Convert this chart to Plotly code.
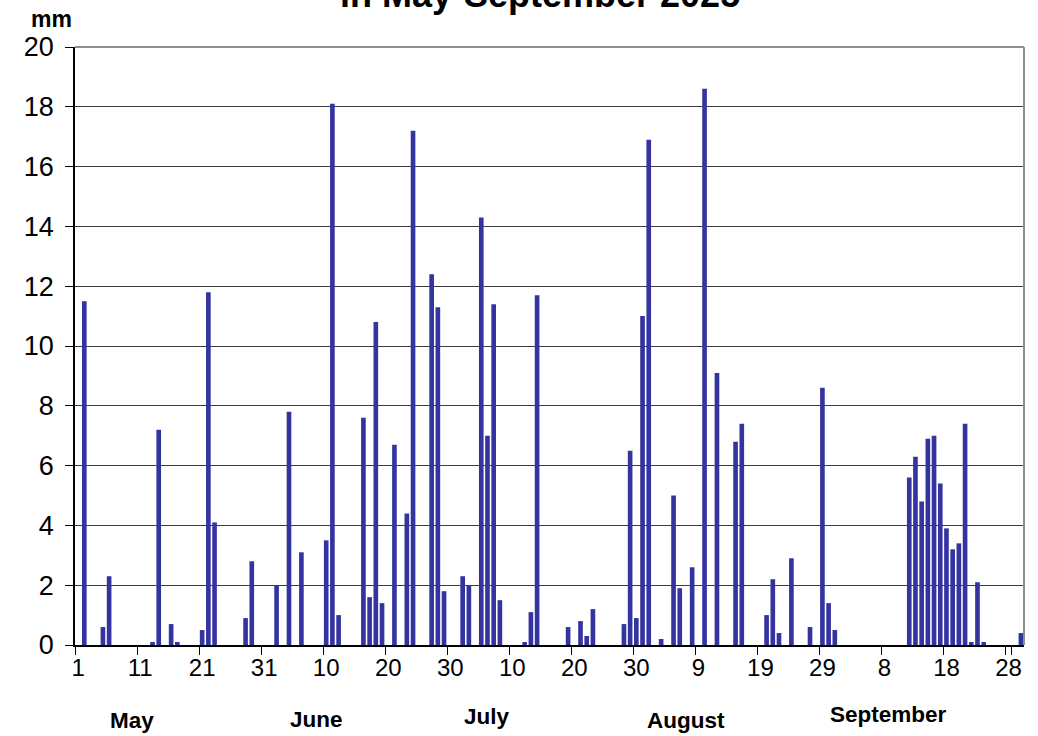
import pandas as pd
import plotly.graph_objects as go

# rainy days (May-Sep 2025) and daily precipitation, mm
rain_dates = [
    "2025-05-02", "2025-05-05", "2025-05-06", "2025-05-13", "2025-05-14",
    "2025-05-16", "2025-05-17", "2025-05-21", "2025-05-22", "2025-05-23",
    "2025-05-28", "2025-05-29",
    "2025-06-02", "2025-06-04", "2025-06-06", "2025-06-10", "2025-06-11",
    "2025-06-12", "2025-06-16", "2025-06-17", "2025-06-18", "2025-06-19",
    "2025-06-21", "2025-06-23", "2025-06-24", "2025-06-27", "2025-06-28",
    "2025-06-29",
    "2025-07-02", "2025-07-03", "2025-07-05", "2025-07-06", "2025-07-07",
    "2025-07-08", "2025-07-12", "2025-07-13", "2025-07-14", "2025-07-19",
    "2025-07-21", "2025-07-22", "2025-07-23", "2025-07-28", "2025-07-29",
    "2025-07-30", "2025-07-31",
    "2025-08-01", "2025-08-03", "2025-08-05", "2025-08-06", "2025-08-08",
    "2025-08-10", "2025-08-12", "2025-08-15", "2025-08-16", "2025-08-20",
    "2025-08-21", "2025-08-22", "2025-08-24", "2025-08-27", "2025-08-29",
    "2025-08-30", "2025-08-31",
    "2025-09-12", "2025-09-13", "2025-09-14", "2025-09-15", "2025-09-16",
    "2025-09-17", "2025-09-18", "2025-09-19", "2025-09-20", "2025-09-21",
    "2025-09-22", "2025-09-23", "2025-09-24", "2025-09-30",
]
rain_mm = [
    11.5, 0.6, 2.3, 0.1, 7.2,
    0.7, 0.1, 0.5, 11.8, 4.1,
    0.9, 2.8,
    2.0, 7.8, 3.1, 3.5, 18.1,
    1.0, 7.6, 1.6, 10.8, 1.4,
    6.7, 4.4, 17.2, 12.4, 11.3,
    1.8,
    2.3, 2.0, 14.3, 7.0, 11.4,
    1.5, 0.1, 1.1, 11.7, 0.6,
    0.8, 0.3, 1.2, 0.7, 6.5,
    0.9, 11.0,
    16.9, 0.2, 5.0, 1.9, 2.6,
    18.6, 9.1, 6.8, 7.4, 1.0,
    2.2, 0.4, 2.9, 0.6, 8.6,
    1.4, 0.5,
    5.6, 6.3, 4.8, 6.9, 7.0,
    5.4, 3.9, 3.2, 3.4, 7.4,
    0.1, 2.1, 0.1, 0.4,
]

all_days = pd.date_range("2025-05-01", "2025-09-30").strftime("%Y-%m-%d").tolist()
tick_days = all_days[::10]
tick_text = [str(int(d[-2:])) for d in tick_days]

month_names = ["May", "June", "July", "August", "September"]
month_x = [0.060, 0.254, 0.434, 0.644, 0.857]
month_y = [-0.126, -0.124, -0.119, -0.126, -0.117]

font = "Liberation Sans, Arial, sans-serif"

fig = go.Figure()
fig.add_trace(
    go.Bar(
        x=rain_dates,
        y=rain_mm,
        marker=dict(color="#3434a0", line=dict(width=0)),
        hoverinfo="x+y",
    )
)

fig.update_layout(
    width=1038,
    height=736,
    margin=dict(l=75, r=14, t=47, b=91),
    paper_bgcolor="white",
    plot_bgcolor="white",
    bargap=0.25,
    showlegend=False,
    font=dict(family=font, color="black"),
    xaxis=dict(
        type="category",
        categoryorder="array",
        categoryarray=all_days,
        range=[-0.5, len(all_days) - 0.5],
        tickmode="array",
        tickvals=tick_days,
        ticktext=tick_text,
        tickson="boundaries",
        tickangle=0,
        automargin=False,
        ticks="outside",
        ticklen=8,
        tickcolor="black",
        showgrid=False,
        showline=True,
        linecolor="black",
        linewidth=1.5,
        tickfont=dict(size=24),
        zeroline=False,
    ),
    yaxis=dict(
        range=[0, 20],
        tickmode="linear",
        tick0=0,
        dtick=2,
        automargin=False,
        ticks="outside",
        ticklen=8,
        tickcolor="black",
        ticklabelstandoff=6,
        showgrid=True,
        gridcolor="#3c3c3c",
        gridwidth=1.3,
        showline=True,
        linecolor="black",
        linewidth=1.5,
        tickfont=dict(size=27),
        zeroline=False,
    ),
)

# grey frame on top and right side
fig.add_shape(type="line", xref="paper", yref="paper", x0=0, x1=1, y0=1, y1=1,
              line=dict(color="#8f8f8f", width=2), layer="above")
fig.add_shape(type="line", xref="paper", yref="paper", x0=1, x1=1, y0=0, y1=1,
              line=dict(color="#8f8f8f", width=2), layer="above")

for name, mx, my in zip(month_names, month_x, month_y):
    fig.add_annotation(text=f"<b>{name}</b>", xref="paper", yref="paper",
                       x=mx, y=my, showarrow=False, xanchor="center",
                       yanchor="middle", font=dict(size=22.5, color="black"))

fig.add_annotation(text="<b>mm</b>", xref="paper", yref="paper", x=-0.025,
                   y=1.047, showarrow=False, xanchor="center", yanchor="middle",
                   font=dict(size=23, color="black"))

# title sits partly above the top edge, as in the source image
fig.add_annotation(text="<b>in May-September 2025</b>", xref="paper",
                   yref="paper", x=0.49, y=1.050, showarrow=False,
                   xanchor="center", yanchor="bottom",
                   font=dict(size=36, color="black"))

# drop the default page margin so the figure sits at the window corner
fig.write_html(
    "out.html",
    config={"displayModeBar": False},
    post_script="document.body.style.margin='0';document.body.style.overflow='hidden';",
)
